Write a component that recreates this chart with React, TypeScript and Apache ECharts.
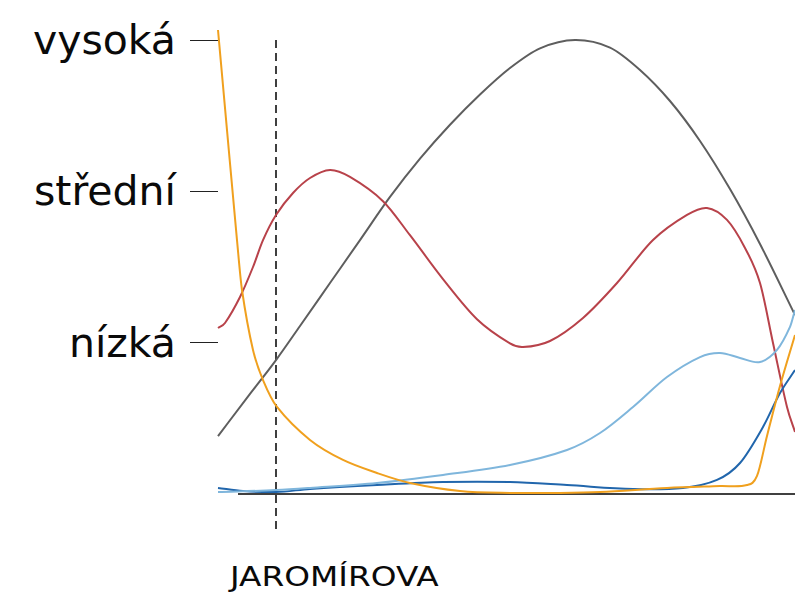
import React, { useEffect, useRef } from "react";
import * as echarts from "echarts";

// x: distance along the street (0..577), y: level (0 = none, 1 nízká, 2 střední, 3 vysoká)
const levelLabels = ["", "nízká", "střední", "vysoká"];
const levelTicks = [1, 2, 3];
const streetLabel = "JAROMÍROVA";
const streetPos = 58;
const streetLineRange = [3, -0.238];
const baselineRange = [20, 577];
const xMax = 577;

const grayLine: [number, number][] = [
  [0, 0.383], [32, 0.661], [58, 0.885], [82, 1.11], [112, 1.394], [142, 1.678],
  [172, 1.963], [202, 2.216], [232, 2.44], [262, 2.64], [292, 2.815], [322, 2.945],
  [357, 3.0], [392, 2.95], [422, 2.802], [452, 2.597], [482, 2.333], [512, 2.015],
  [542, 1.652], [577, 1.183],
];
const redLine: [number, number][] = [
  [0, 1.097], [7, 1.13], [22, 1.302], [35, 1.5], [45, 1.678], [58, 1.844], [75, 1.989],
  [92, 2.088], [112, 2.141], [132, 2.095], [165, 1.935], [192, 1.71], [225, 1.42],
  [259, 1.155], [292, 0.995], [305, 0.971], [332, 1.011], [365, 1.163], [399, 1.394],
  [435, 1.678], [469, 1.844], [489, 1.89], [509, 1.811], [527, 1.626],
  [542, 1.394], [555, 0.998], [569, 0.575], [577, 0.41],
];
const orangeLine: [number, number][] = [
  [0, 3.066], [9, 2.405], [19, 1.678], [24, 1.348], [35, 0.952], [45, 0.753], [59, 0.575],
  [92, 0.357], [125, 0.225], [159, 0.139], [192, 0.073], [242, 0.02], [292, 0.007],
  [342, 0.007], [382, 0.013], [449, 0.04], [502, 0.053], [529, 0.059], [539, 0.119],
  [549, 0.383], [562, 0.714], [577, 1.051],
];
const darkBlueLine: [number, number][] = [
  [0, 0.04], [25, 0.02], [58, 0.013], [92, 0.033], [159, 0.059], [225, 0.079], [292, 0.079],
  [349, 0.059], [415, 0.033], [465, 0.04], [499, 0.093], [522, 0.205], [545, 0.443],
  [562, 0.667], [577, 0.819],
];
const lightBlueLine: [number, number][] = [
  [0, 0.013], [58, 0.026], [92, 0.04], [159, 0.073], [225, 0.126], [292, 0.192],
  [349, 0.291], [382, 0.403], [415, 0.575], [449, 0.773], [482, 0.905], [502, 0.932],
  [522, 0.899], [542, 0.872], [559, 0.952], [572, 1.104], [577, 1.216],
];

const FONT = "DejaVu Sans";

// Smooth curve through the points, parameterised by x (cubic Hermite with central-difference slopes)
function curvePath(p: number[][]): string {
  const n = p.length;
  const m: number[] = [];
  for (let i = 0; i < n; i++) {
    const a = p[Math.max(0, i - 1)];
    const b = p[Math.min(n - 1, i + 1)];
    m.push((b[1] - a[1]) / (b[0] - a[0] || 1));
  }
  let d = `M${p[0][0]},${p[0][1]}`;
  for (let i = 0; i < n - 1; i++) {
    const h = p[i + 1][0] - p[i][0];
    const c1x = p[i][0] + h / 3;
    const c1y = p[i][1] + (m[i] * h) / 3;
    const c2x = p[i + 1][0] - h / 3;
    const c2y = p[i + 1][1] - (m[i + 1] * h) / 3;
    d += ` C${c1x},${c1y} ${c2x},${c2y} ${p[i + 1][0]},${p[i + 1][1]}`;
  }
  return d;
}

function curveSeries(name: string, data: [number, number][], color: string) {
  return {
    name,
    type: "custom",
    data,
    encode: { x: 0, y: 1 },
    clip: false,
    silent: true,
    z: 3,
    renderItem: (params: any, api: any) => {
      if (params.dataIndex !== 0) return null;
      const pts = data.map((d) => api.coord(d));
      return {
        type: "path",
        shape: { pathData: curvePath(pts) },
        style: { fill: "none", stroke: color, lineWidth: 2 },
      };
    },
  };
}

export default function App() {
  const ref = useRef<HTMLDivElement>(null);
  useEffect(() => {
    if (!ref.current) return;
    const chart = echarts.init(ref.current, null, { renderer: "svg" });
    chart.setOption({
      animation: false,
      backgroundColor: "#ffffff",
      grid: { left: 218, top: 40, right: 0, bottom: 101, containLabel: false },
      xAxis: { type: "value", min: 0, max: xMax, show: false },
      yAxis: {
        type: "value",
        min: 0,
        max: 3,
        interval: 1,
        axisLine: { show: false },
        splitLine: { show: false },
        axisTick: { show: true, customValues: levelTicks, length: 28, lineStyle: { color: "#222", width: 1 } },
        axisLabel: {
          customValues: levelTicks,
          formatter: (v: number) => levelLabels[Math.round(v)] ?? "",
          fontSize: 41,
          fontFamily: FONT,
          color: "#0a0a0a",
          margin: 42,
        },
      },
      graphic: [
        {
          type: "text",
          x: 230,
          y: 564,
          scaleX: 1.26,
          style: { text: streetLabel, x: 0, y: 0, fontSize: 26, fontFamily: FONT, fill: "#0a0a0a", verticalAlign: "top" },
        },
      ],
      series: [
        {
          name: "baseline",
          type: "line",
          data: baselineRange.map((x) => [x, 0]),
          showSymbol: false,
          symbol: "none",
          clip: false,
          silent: true,
          lineStyle: { color: "#000", width: 1.5 },
          z: 2,
        },
        {
          name: "street",
          type: "line",
          data: streetLineRange.map((y) => [streetPos, y]),
          showSymbol: false,
          symbol: "none",
          clip: false,
          silent: true,
          lineStyle: { color: "#000", width: 1.5, type: [8, 5] },
          z: 2,
        },
        curveSeries("gray", grayLine, "#5e5e5e"),
        curveSeries("red", redLine, "#b8424a"),
        curveSeries("darkblue", darkBlueLine, "#2166ac"),
        curveSeries("lightblue", lightBlueLine, "#7fb6dc"),
        curveSeries("orange", orangeLine, "#f0a01e"),
      ],
    });
    return () => chart.dispose();
  }, []);
  return (
    <div
      ref={ref}
      style={{ position: "fixed", left: 0, top: 0, width: 795, height: 595, background: "#fff" }}
    />
  );
}
